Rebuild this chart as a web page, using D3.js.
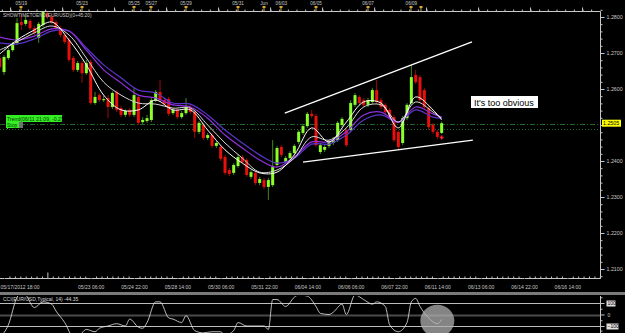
<!DOCTYPE html>
<html>
<head>
<meta charset="utf-8">
<script src="https://cdn.jsdelivr.net/npm/d3@7/dist/d3.min.js"></script>
<style>
body { margin: 0; background: #000; }
svg { display: block; background: #000; }
text { font-family: "Liberation Sans", Arial, sans-serif; }
</style>
</head>
<body>
<svg id="chart" width="625" height="333"></svg>
<script>
// EUR/USD 4h candles
const openP = [1.2686,1.2647,1.2686,1.2708,1.2728,1.2786,1.2781,1.2789,1.2769,1.2742,
	1.2778,1.2811,1.2800,1.2786,1.2769,1.2750,1.2736,1.2686,1.2653,1.2672,
	1.2644,1.2675,1.2561,1.2583,1.2569,1.2575,1.2550,1.2592,1.2547,1.2528,
	1.2542,1.2528,1.2578,1.2508,1.2511,1.2514,1.2569,1.2592,1.2569,1.2572,
	1.2533,1.2542,1.2522,1.2533,1.2550,1.2536,1.2481,1.2500,1.2464,1.2472,
	1.2442,1.2439,1.2411,1.2375,1.2367,1.2386,1.2411,1.2403,1.2356,1.2367,
	1.2339,1.2347,1.2328,1.2333,1.2389,1.2439,1.2397,1.2408,1.2422,1.2453,
	1.2478,1.2497,1.2531,1.2525,1.2425,1.2431,1.2442,1.2450,1.2458,1.2500,
	1.2486,1.2486,1.2556,1.2578,1.2569,1.2556,1.2564,1.2597,1.2569,1.2556,
	1.2542,1.2522,1.2481,1.2450,1.2519,1.2561,1.2639,1.2633,1.2597,1.2547,
	1.2500,1.2481,1.2478];
const highP = [1.2694,1.2694,1.2714,1.2731,1.2797,1.2808,1.2803,1.2794,1.2775,1.2786,
	1.2817,1.2817,1.2806,1.2792,1.2775,1.2756,1.2742,1.2692,1.2678,1.2678,
	1.2681,1.2681,1.2592,1.2589,1.2581,1.2583,1.2594,1.2597,1.2553,1.2544,
	1.2547,1.2603,1.2583,1.2522,1.2528,1.2575,1.2597,1.2625,1.2575,1.2578,
	1.2547,1.2547,1.2539,1.2575,1.2556,1.2542,1.2511,1.2506,1.2478,1.2478,
	1.2456,1.2444,1.2417,1.2381,1.2394,1.2419,1.2417,1.2408,1.2375,1.2372,
	1.2356,1.2353,1.2353,1.2458,1.2442,1.2444,1.2414,1.2428,1.2447,1.2486,
	1.2503,1.2536,1.2542,1.2531,1.2450,1.2444,1.2458,1.2467,1.2511,1.2522,
	1.2492,1.2569,1.2589,1.2583,1.2575,1.2575,1.2603,1.2625,1.2575,1.2561,
	1.2547,1.2528,1.2486,1.2525,1.2561,1.2667,1.2653,1.2639,1.2603,1.2553,
	1.2506,1.2486,1.2510];
const lowP = [1.2653,1.2639,1.2681,1.2703,1.2722,1.2764,1.2775,1.2764,1.2750,1.2728,
	1.2772,1.2794,1.2781,1.2764,1.2744,1.2725,1.2675,1.2647,1.2647,1.2617,
	1.2639,1.2556,1.2556,1.2564,1.2564,1.2519,1.2544,1.2536,1.2522,1.2522,
	1.2522,1.2522,1.2500,1.2503,1.2506,1.2508,1.2564,1.2564,1.2553,1.2525,
	1.2528,1.2517,1.2517,1.2528,1.2531,1.2464,1.2475,1.2458,1.2458,1.2436,
	1.2436,1.2400,1.2361,1.2358,1.2361,1.2381,1.2392,1.2356,1.2350,1.2333,
	1.2333,1.2322,1.2292,1.2328,1.2383,1.2411,1.2392,1.2403,1.2417,1.2447,
	1.2472,1.2492,1.2519,1.2439,1.2419,1.2425,1.2436,1.2444,1.2453,1.2494,
	1.2439,1.2481,1.2550,1.2556,1.2550,1.2550,1.2558,1.2558,1.2544,1.2531,
	1.2514,1.2453,1.2431,1.2444,1.2514,1.2556,1.2614,1.2564,1.2544,1.2486,
	1.2475,1.2461,1.2475];
const closeP = [1.2661,1.2689,1.2708,1.2725,1.2783,1.2778,1.2792,1.2769,1.2756,1.2781,
	1.2814,1.2800,1.2786,1.2769,1.2750,1.2731,1.2681,1.2653,1.2672,1.2644,
	1.2672,1.2561,1.2578,1.2569,1.2572,1.2550,1.2589,1.2542,1.2528,1.2539,
	1.2528,1.2583,1.2506,1.2514,1.2519,1.2569,1.2592,1.2569,1.2558,1.2531,
	1.2542,1.2522,1.2533,1.2550,1.2536,1.2481,1.2506,1.2464,1.2472,1.2442,
	1.2450,1.2406,1.2367,1.2364,1.2389,1.2411,1.2397,1.2361,1.2369,1.2339,
	1.2350,1.2328,1.2347,1.2383,1.2436,1.2417,1.2408,1.2422,1.2442,1.2481,
	1.2497,1.2531,1.2525,1.2444,1.2444,1.2439,1.2453,1.2458,1.2506,1.2517,
	1.2444,1.2561,1.2583,1.2561,1.2556,1.2569,1.2597,1.2564,1.2550,1.2536,
	1.2519,1.2458,1.2439,1.2519,1.2556,1.2633,1.2619,1.2569,1.2550,1.2494,
	1.2481,1.2467,1.2505];

// moving averages, sampled every 4 candles
const maIdx = [0,4,8,12,16,20,24,28,32,36,40,44,48,52,56,60,64,68,72,76,80,84,88,92,96,100,102];
const maFast = [1.2697,1.2736,1.2764,1.2786,1.2736,1.2667,1.2583,1.2542,1.2542,1.2569,1.2542,1.2542,1.2486,1.2431,1.2394,1.2367,1.2369,1.2417,1.2492,1.2453,1.2508,1.2564,1.2561,1.2492,1.2578,1.2542,1.2514];
const maMid = [1.2708,1.2731,1.2756,1.2775,1.2750,1.2686,1.2619,1.2583,1.2561,1.2558,1.2547,1.2547,1.2500,1.2450,1.2408,1.2369,1.2375,1.2408,1.2467,1.2458,1.2492,1.2550,1.2556,1.2508,1.2564,1.2536,1.2519];
const maSlow = [1.2744,1.2736,1.2747,1.2767,1.2761,1.2708,1.2653,1.2617,1.2583,1.2575,1.2556,1.2550,1.2519,1.2472,1.2436,1.2403,1.2383,1.2411,1.2453,1.2453,1.2481,1.2528,1.2536,1.2508,1.2550,1.2531,1.2522];
const maSlowest = [1.2728,1.2725,1.2739,1.2761,1.2761,1.2714,1.2667,1.2631,1.2597,1.2589,1.2561,1.2558,1.2528,1.2486,1.2450,1.2417,1.2394,1.2408,1.2447,1.2447,1.2472,1.2514,1.2528,1.2508,1.2542,1.2522,1.2519];

// CCI(14)
const cciIdx = [0,2,4,5,6,8,10,12,13,15,17,18,19,20,22,23,25,27,29,30,32,33,34,36,37,39,40,42,43,45,
	47,49,51,52,54,55,57,59,61,62,63,64,66,68,69,71,73,74,76,77,79,80,82,84,86,87,89,90,92,94,95,96,97,99,101,102];
const cciVal = [-200,-90,150,190,170,60,110,90,30,-70,-210,-230,-160,-130,-150,-120,-100,-80,-100,-40,
	-110,-120,-70,110,110,-30,-40,-70,-10,-140,-160,-150,-150,-180,-140,-70,-100,-100,-100,-130,
	130,130,70,150,170,160,70,10,0,20,90,0,170,130,90,110,70,-90,-150,-70,110,140,70,-30,-80,-44];

// axes
const priceTicks = [1.21,1.22,1.23,1.24,1.25,1.26,1.27,1.28];
const bottomTickIdx = [1,21,31,41,51,61,71,81,91,101,111,121,131];
const bottomTickLabels = ['05/17/2012 18:00','05/23 06:00','05/24 22:00','05/28 14:00','05/30 06:00','05/31 22:00',
	'06/04 14:00','06/06 06:00','06/07 22:00','06/11 14:00','06/13 06:00','06/14 22:00','06/16 14:00'];
const topTickIdx = [5,19,31,35,43,55,61,65,73,85,95];
const topTickLabels = ['05/19','05/23','05/25','05/27','05/29','05/31','Jun','06/03','06/05','06/07','06/09'];
const cciTicks = [100,0,-100];

// drawings
const trendUpper = [[65.8,1.2533],[109,1.2731]];
const trendLower = [[70,1.2397],[109.2,1.2458]];
const levelLines = [1.2503,1.2489];
const lastPrice = 1.2505;
const signal = [102,1.2465];

let svg = d3.select('#chart');

let x = d3.scaleLinear().domain([0,10]).range([-0.3,43.03]);
let y = d3.scaleLinear().domain([1.21,1.28]).range([269,17]);
let yc = d3.scaleLinear().domain([-100,100]).range([326,303]);

const bull = '#8cff2a', bear = '#e8100c';

// frame
svg.append('defs').append('clipPath').attr('id','plot')
	.append('rect').attr('x',0).attr('y',11).attr('width',600).attr('height',267);
svg.append('defs').append('clipPath').attr('id','cci')
	.append('rect').attr('x',0).attr('y',296).attr('width',600).attr('height',37);

let plot = svg.append('g').attr('clip-path','url(#plot)');

// level lines
plot.selectAll('line.level').data(levelLines).enter().append('line')
	.attr('x1',0).attr('x2',600)
	.attr('y1',d => Math.round(y(d)) + 0.5).attr('y2',d => Math.round(y(d)) + 0.5)
	.attr('stroke','#1e6a28').attr('stroke-width',1)
	.attr('stroke-dasharray',(d,i) => i == 0 ? '5,2,1,2' : '1,2');

// candles
let candles = plot.selectAll('g.candle').data(d3.range(openP.length)).enter().append('g');
candles.append('line')
	.attr('x1',i => x(i)).attr('x2',i => x(i))
	.attr('y1',i => y(highP[i])).attr('y2',i => y(lowP[i]))
	.attr('stroke',i => closeP[i] >= openP[i] ? '#3f8a1c' : '#9a0c08')
	.attr('stroke-width',1);
candles.append('rect')
	.attr('x',i => x(i) - 1.5).attr('width',3)
	.attr('y',i => y(Math.max(openP[i],closeP[i])))
	.attr('height',i => Math.max(1, Math.abs(y(openP[i]) - y(closeP[i]))))
	.attr('fill',i => closeP[i] >= openP[i] ? bull : bear);

// moving averages
let maLine = d3.line().x((d,k) => x(maIdx[k])).y(d => y(d)).curve(d3.curveCatmullRom);
[[maSlowest,'#5a34c8',1.2],[maSlow,'#9030e0',1.2],[maMid,'#d8d8d8',1],[maFast,'#ffffff',1]].forEach(function(m) {
	plot.append('path').attr('d',maLine(m[0]))
		.attr('fill','none').attr('stroke',m[1]).attr('stroke-width',m[2]);
});

// trend lines
[trendUpper,trendLower].forEach(function(t) {
	plot.append('line')
		.attr('x1',x(t[0][0])).attr('y1',y(t[0][1]))
		.attr('x2',x(t[1][0])).attr('y2',y(t[1][1]))
		.attr('stroke','#fff').attr('stroke-width',1.3);
});

// signal mark
plot.append('path')
	.attr('d','M' + (x(signal[0]) - 2) + ',' + y(signal[1]) + 'h4M' + x(signal[0]) + ',' + (y(signal[1]) - 2) + 'v4')
	.attr('stroke','#ff2020').attr('stroke-width',1.5);

// note
svg.append('rect').attr('x',471).attr('y',96).attr('width',67).attr('height',12).attr('fill','#fff');
svg.append('text').attr('x',474).attr('y',105.5).attr('font-size',9).attr('fill','#000').text("It's too obvious");

// frame lines
svg.append('path').attr('d','M0,11.5H600.5V278.5H0').attr('fill','none').attr('stroke','#c8c8c8').attr('stroke-width',1);

// right price axis (the 1.2500 label sits under the last price tag)
let yAxis = svg.append('g').attr('transform','translate(600.5,0)')
	.call(d3.axisRight(y).tickValues(priceTicks).tickFormat(d => d == 1.25 ? '' : d3.format('.4f')(d)).tickSize(4).tickPadding(2));
svg.append('g').attr('transform','translate(600.5,0)')
	.call(d3.axisRight(y).tickValues(d3.range(1.208,1.2822,0.002)).tickFormat('').tickSize(2));
svg.selectAll('.domain').remove();
yAxis.selectAll('text').attr('font-size',5.3).attr('fill','#c8c8c8');
svg.selectAll('.tick line').attr('stroke','#c8c8c8');

// last price tag
svg.append('rect').attr('x',602).attr('y',y(lastPrice) - 3.5).attr('width',19).attr('height',7).attr('fill','#ffff00');
svg.append('text').attr('x',603).attr('y',y(lastPrice) + 2).attr('font-size',5.3).attr('fill','#000')
	.text(d3.format('.4f')(lastPrice));

// bottom time axis
let xb = svg.append('g').attr('transform','translate(0,278.5)')
	.call(d3.axisBottom(x).tickValues(bottomTickIdx).tickFormat((d,i) => bottomTickLabels[i]).tickSizeInner(-6).tickSizeOuter(0).tickPadding(7));
xb.select('.domain').remove();
xb.selectAll('text').attr('font-size',5).attr('fill','#c8c8c8');
xb.select('.tick text').attr('text-anchor','start').attr('x',-4);
let minorB = [];
bottomTickIdx.concat([-9,11]).forEach(function(t) { for (let j = 1; j < 8; j++) minorB.push(t + j * 1.25); });
svg.append('g').attr('transform','translate(0,278.5)')
	.call(d3.axisBottom(x).tickValues(minorB.filter(v => x(v) < 600 && x(v) > 0)).tickFormat('').tickSizeInner(-2).tickSizeOuter(0))
	.call(g => g.select('.domain').remove())
	.selectAll('line').attr('stroke','#c8c8c8');
svg.append('g').attr('transform','translate(0,278.5)')
	.call(d3.axisBottom(x).tickValues([11]).tickFormat('').tickSizeInner(-6).tickSizeOuter(0))
	.call(g => g.select('.domain').remove())
	.selectAll('line').attr('stroke','#c8c8c8');

// top axis
let minorT = d3.range(0.5,138,2).filter(v => x(v) < 600);
svg.append('g').attr('transform','translate(0,11.5)')
	.call(d3.axisTop(x).tickValues(minorT).tickFormat('').tickSizeInner(2).tickSizeOuter(0))
	.call(g => g.select('.domain').remove())
	.selectAll('line').attr('stroke','#c8c8c8');
svg.append('g').attr('transform','translate(0,11.5)')
	.call(d3.axisTop(x).tickValues(d3.range(2.4,138,12).filter(v => x(v) < 600)).tickFormat('').tickSizeInner(4).tickSizeOuter(0))
	.call(g => g.select('.domain').remove())
	.selectAll('line').attr('stroke','#c8c8c8');
let pins = svg.append('g').selectAll('g').data(topTickIdx.concat([97.2])).enter().append('g')
	.attr('transform',d => 'translate(' + Math.round(x(d)) + ',0)');
pins.append('rect').attr('x',-1.5).attr('y',6).attr('width',3).attr('height',2).attr('fill','#d8a830');
pins.append('rect').attr('x',-0.5).attr('y',6).attr('width',1).attr('height',5).attr('fill','#d8a830');
svg.append('g').selectAll('text').data(topTickIdx).enter().append('text')
	.attr('x',d => x(d)).attr('y',5).attr('text-anchor','middle')
	.attr('font-size',4.6).attr('fill','#c8c8c8')
	.text((d,i) => topTickLabels[i]);

svg.append('text').attr('x',3).attr('y',17).attr('font-size',4.8).attr('fill','#c8c8c8')
	.text('SHOWTIMETOEND(EUR/USD)(0+45:20)');

// trend label
svg.append('line').attr('x1',7.5).attr('x2',7.5).attr('y1',122).attr('y2',129).attr('stroke','#33dd22');
svg.append('rect').attr('x',6).attr('y',115).attr('width',56).attr('height',7).attr('fill','#33ee22');
svg.append('text').attr('x',7).attr('y',120.8).attr('font-size',5.2).attr('fill','#0a3a0a').text('Trend(06/11 21:09, -0.2)');
svg.append('rect').attr('x',6).attr('y',122).attr('width',13).attr('height',6).attr('fill','#33ee22');
svg.append('rect').attr('x',19).attr('y',122).attr('width',4).attr('height',6).attr('fill','#707070');
svg.append('text').attr('x',7).attr('y',127).attr('font-size',5).attr('fill','#0a3a0a').text('Stop');

// panel separator
svg.append('rect').attr('x',0).attr('y',292).attr('width',625).attr('height',3).attr('fill','#7a7a7a');

// CCI panel
let cci = svg.append('g').attr('clip-path','url(#cci)');
cci.selectAll('line.lvl').data(cciTicks).enter().append('line')
	.attr('x1',0).attr('x2',600)
	.attr('y1',d => Math.round(yc(d)) + 0.5).attr('y2',d => Math.round(yc(d)) + 0.5)
	.attr('stroke',d => d == 0 ? '#4a4a4a' : '#bdbdbd').attr('stroke-width',d => d == 0 ? 2 : 1);
let cciLine = d3.line().x((d,k) => x(cciIdx[k])).y(d => yc(d)).curve(d3.curveMonotoneX);
cci.append('path').attr('d',cciLine(cciVal)).attr('fill','none').attr('stroke','#e8e8e8').attr('stroke-width',0.8);
cci.append('ellipse').attr('cx',x(101)).attr('cy',yc(-55)).attr('rx',17).attr('ry',16)
	.attr('fill','#b0b0b0').attr('opacity',0.75);

svg.append('text').attr('x',3).attr('y',301).attr('font-size',5).attr('fill','#d8d8d8')
	.text('CCI(EUR/USD,Typical, 14) -44.35');

svg.append('line').attr('x1',600.5).attr('x2',600.5).attr('y1',296).attr('y2',333).attr('stroke','#c8c8c8');
let cy = svg.append('g').attr('transform','translate(600.5,0)')
	.call(d3.axisRight(yc).tickValues(cciTicks).tickFormat(d3.format('d')).tickSize(4).tickPadding(3));
cy.select('.domain').remove();
cy.selectAll('line').attr('stroke','#c8c8c8');
cy.selectAll('.tick').filter(d => d != 0).insert('rect','text')
	.attr('x',6).attr('y',-3).attr('width',d => d < 0 ? 12 : 9).attr('height',6).attr('fill','#e0e0e0');
cy.selectAll('text').attr('font-size',5).attr('fill',d => d == 0 ? '#c8c8c8' : '#000');
svg.append('g').attr('transform','translate(600.5,0)')
	.call(d3.axisRight(yc).tickValues([-140,-50,50,150]).tickFormat('').tickSize(2))
	.call(g => g.select('.domain').remove())
	.selectAll('line').attr('stroke','#c8c8c8');
</script>
</body>
</html>
